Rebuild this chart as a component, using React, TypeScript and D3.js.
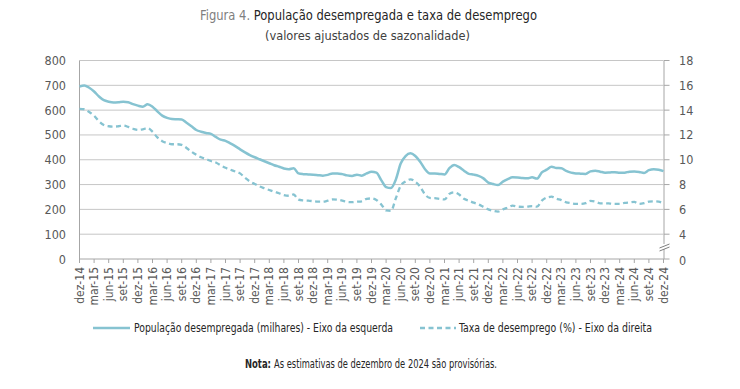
import * as d3 from "d3"

const monthNames = ["jan", "fev", "mar", "abr", "mai", "jun", "jul", "ago", "set", "out", "nov", "dez"]
const firstYear = 2014
const firstMonth = 11 // dez-14

// População desempregada (milhares), dez-14 .. dez-24, mensal
const unemployed = [
  695, 699, 690, 675, 655, 640, 634, 631, 632, 634, 632, 624,
  618, 614, 624, 614, 595, 578, 569, 564, 563, 562, 549, 535,
  520, 513, 508, 504, 492, 481, 476, 466, 455, 442, 430, 419,
  410, 402, 394, 386, 378, 372, 365, 362, 366, 345, 342, 341,
  340, 338, 336, 339, 345, 345, 342, 337, 335, 340, 336, 345,
  352, 348, 318, 290, 286, 320, 385, 415, 426, 415, 392, 362,
  345, 345, 343, 341, 366, 379, 370, 356, 343, 340, 335, 325,
  308, 302, 298, 312, 322, 329, 328, 326, 325, 329, 324, 349,
  360, 372, 367, 366, 355, 348, 345, 344, 343, 353, 356, 352,
  348, 349, 350, 348, 348, 352, 353, 351, 347, 358, 362, 360,
  354,
]

// Taxa de desemprego (%), dez-14 .. dez-24, mensal
const rate = [
  14.1, 14.07, 13.85, 13.55, 13.1, 12.8, 12.7, 12.67, 12.7, 12.75, 12.65, 12.5,
  12.4, 12.45, 12.55, 12.27, 11.8, 11.5, 11.35, 11.25, 11.25, 11.2, 10.95, 10.65,
  10.4, 10.2, 10.05, 9.9, 9.78, 9.55, 9.35, 9.2, 9.05, 8.9, 8.55, 8.25,
  8.05, 7.85, 7.7, 7.56, 7.42, 7.3, 7.15, 7.1, 7.2, 6.78, 6.72, 6.7,
  6.66, 6.62, 6.62, 6.7, 6.8, 6.78, 6.7, 6.6, 6.58, 6.62, 6.65, 6.85,
  6.88, 6.76, 6.4, 5.92, 5.88, 6.9, 7.9, 8.25, 8.42, 8.23, 7.83, 7.2,
  6.92, 6.9, 6.85, 6.8, 7.25, 7.38, 7.2, 6.85, 6.7, 6.54, 6.4, 6.2,
  6.0, 5.88, 5.82, 6.0, 6.15, 6.3, 6.22, 6.2, 6.22, 6.27, 6.22, 6.7,
  6.95, 7.02, 6.85, 6.75, 6.57, 6.5, 6.44, 6.44, 6.5, 6.68, 6.62, 6.49,
  6.49, 6.47, 6.44, 6.44, 6.52, 6.56, 6.6, 6.44, 6.5, 6.62, 6.65, 6.62,
  6.49,
]

const leftTicks = [0, 100, 200, 300, 400, 500, 600, 700, 800]
const rightTicks = [4, 6, 8, 10, 12, 14, 16, 18]

const monthLabel = (i: number) => {
  const m = (firstMonth + i) % 12
  const y = firstYear + Math.floor((firstMonth + i) / 12)
  return `${monthNames[m]}-${String(y).slice(2)}`
}

const W = 740
const H = 389
const plot = { left: 79.5, right: 663.5, top: 60.5, bottom: 259 }
const lineColor = "#86c3d1"
const axisText = "#595959"
const gridColor = "#c6c6c6"
const font = "'DejaVu Sans Condensed', 'Open Sans', sans-serif"

export default function App() {
  const x = d3.scaleLinear().domain([0, unemployed.length - 1]).range([plot.left, plot.right])
  const yLeft = d3.scaleLinear().domain([0, 800]).range([plot.bottom, plot.top])
  const yRight = d3.scaleLinear().domain([2, 18]).range([plot.bottom, plot.top])

  const popLine = d3.line<number>()
    .x((_, i) => x(i))
    .y(d => yLeft(d))
    .curve(d3.curveMonotoneX)
  const rateLine = d3.line<number>()
    .x((_, i) => x(i))
    .y(d => yRight(d))
    .curve(d3.curveMonotoneX)

  const quarterIdx = d3.range(0, unemployed.length, 3)
  const breakY = 247

  return (
    <svg width={W} height={H} style={{ position: "absolute", left: 0, top: 0, background: "#fff" }} fontFamily={font}>
      {/* titulo */}
      <text x={200} y={20} fontSize={14} textLength={337} lengthAdjust="spacingAndGlyphs">
        <tspan fill="#7f7f7f">Figura 4. </tspan>
        <tspan fill="#262626">População desempregada e taxa de desemprego</tspan>
      </text>
      <text x={265} y={40} fontSize={13} fill="#404040" textLength={205} lengthAdjust="spacingAndGlyphs">
        (valores ajustados de sazonalidade)
      </text>

      {/* grelha */}
      {leftTicks.filter(t => t > 0).map(t => (
        <line key={t} x1={plot.left} x2={plot.right} y1={yLeft(t)} y2={yLeft(t)} stroke={gridColor} strokeWidth={1} />
      ))}

      {/* eixo esquerdo */}
      <line x1={plot.left} x2={plot.left} y1={plot.top} y2={plot.bottom} stroke="#a6a6a6" />
      {leftTicks.map(t => (
        <text key={t} x={66} y={yLeft(t) + 4.5} textAnchor="end" fontSize={12.5} fill={axisText}>{t}</text>
      ))}

      {/* eixo direito */}
      <line x1={plot.right + 0.5} x2={plot.right + 0.5} y1={plot.top} y2={plot.bottom} stroke="#a6a6a6" />
      {rightTicks.map(t => (
        <g key={t}>
          <line x1={plot.right + 0.5} x2={plot.right + 6} y1={yRight(t)} y2={yRight(t)} stroke="#a6a6a6" />
          <text x={679} y={yRight(t) + 4.5} fontSize={12.5} fill={axisText}>{t}</text>
        </g>
      ))}
      <line x1={plot.right + 0.5} x2={plot.right + 6} y1={plot.bottom} y2={plot.bottom} stroke="#a6a6a6" />
      <text x={679} y={plot.bottom + 6} fontSize={12.5} fill={axisText}>0</text>
      <rect x={plot.right - 4} y={breakY - 3} width={10} height={5} fill="#fff" />
      <line x1={plot.right - 4} x2={plot.right + 6} y1={breakY + 1} y2={breakY - 3} stroke="#7f7f7f" />
      <line x1={plot.right - 4} x2={plot.right + 6} y1={breakY + 4} y2={breakY} stroke="#7f7f7f" />

      {/* eixo x */}
      <line x1={plot.left} x2={plot.right + 0.5} y1={plot.bottom} y2={plot.bottom} stroke="#a6a6a6" />
      {quarterIdx.map(i => (
        <g key={i}>
          <line x1={x(i)} x2={x(i)} y1={plot.bottom} y2={plot.bottom + 4} stroke="#a6a6a6" />
          <text
            transform={`translate(${x(i) + 4},${plot.bottom + 8}) rotate(-90)`}
            textAnchor="end"
            fontSize={12}
            fill={axisText}
          >
            {monthLabel(i)}
          </text>
        </g>
      ))}

      {/* series */}
      <path d={rateLine(rate) ?? ""} fill="none" stroke={lineColor} strokeWidth={2.3} strokeDasharray="5,3.5" />
      <path d={popLine(unemployed) ?? ""} fill="none" stroke={lineColor} strokeWidth={2.5} />

      {/* legenda */}
      <line x1={93} x2={130} y1={328} y2={328} stroke={lineColor} strokeWidth={2.5} />
      <text x={134} y={332} fontSize={12} fill="#262626" textLength={259} lengthAdjust="spacingAndGlyphs">
        População desempregada (milhares) - Eixo da esquerda
      </text>
      <line x1={420} x2={456} y1={328} y2={328} stroke={lineColor} strokeWidth={2.3} strokeDasharray="5,3.5" />
      <text x={459} y={332} fontSize={12} fill="#262626" textLength={193} lengthAdjust="spacingAndGlyphs">
        Taxa de desemprego (%) - Eixo da direita
      </text>

      {/* nota */}
      <text x={245} y={368} fontSize={11.5} fontWeight="bold" fill="#262626" textLength={26} lengthAdjust="spacingAndGlyphs">
        Nota:
      </text>
      <text x={274} y={368} fontSize={11.5} fill="#262626" textLength={223} lengthAdjust="spacingAndGlyphs">
        As estimativas de dezembro de 2024 são provisórias.
      </text>
    </svg>
  )
}
